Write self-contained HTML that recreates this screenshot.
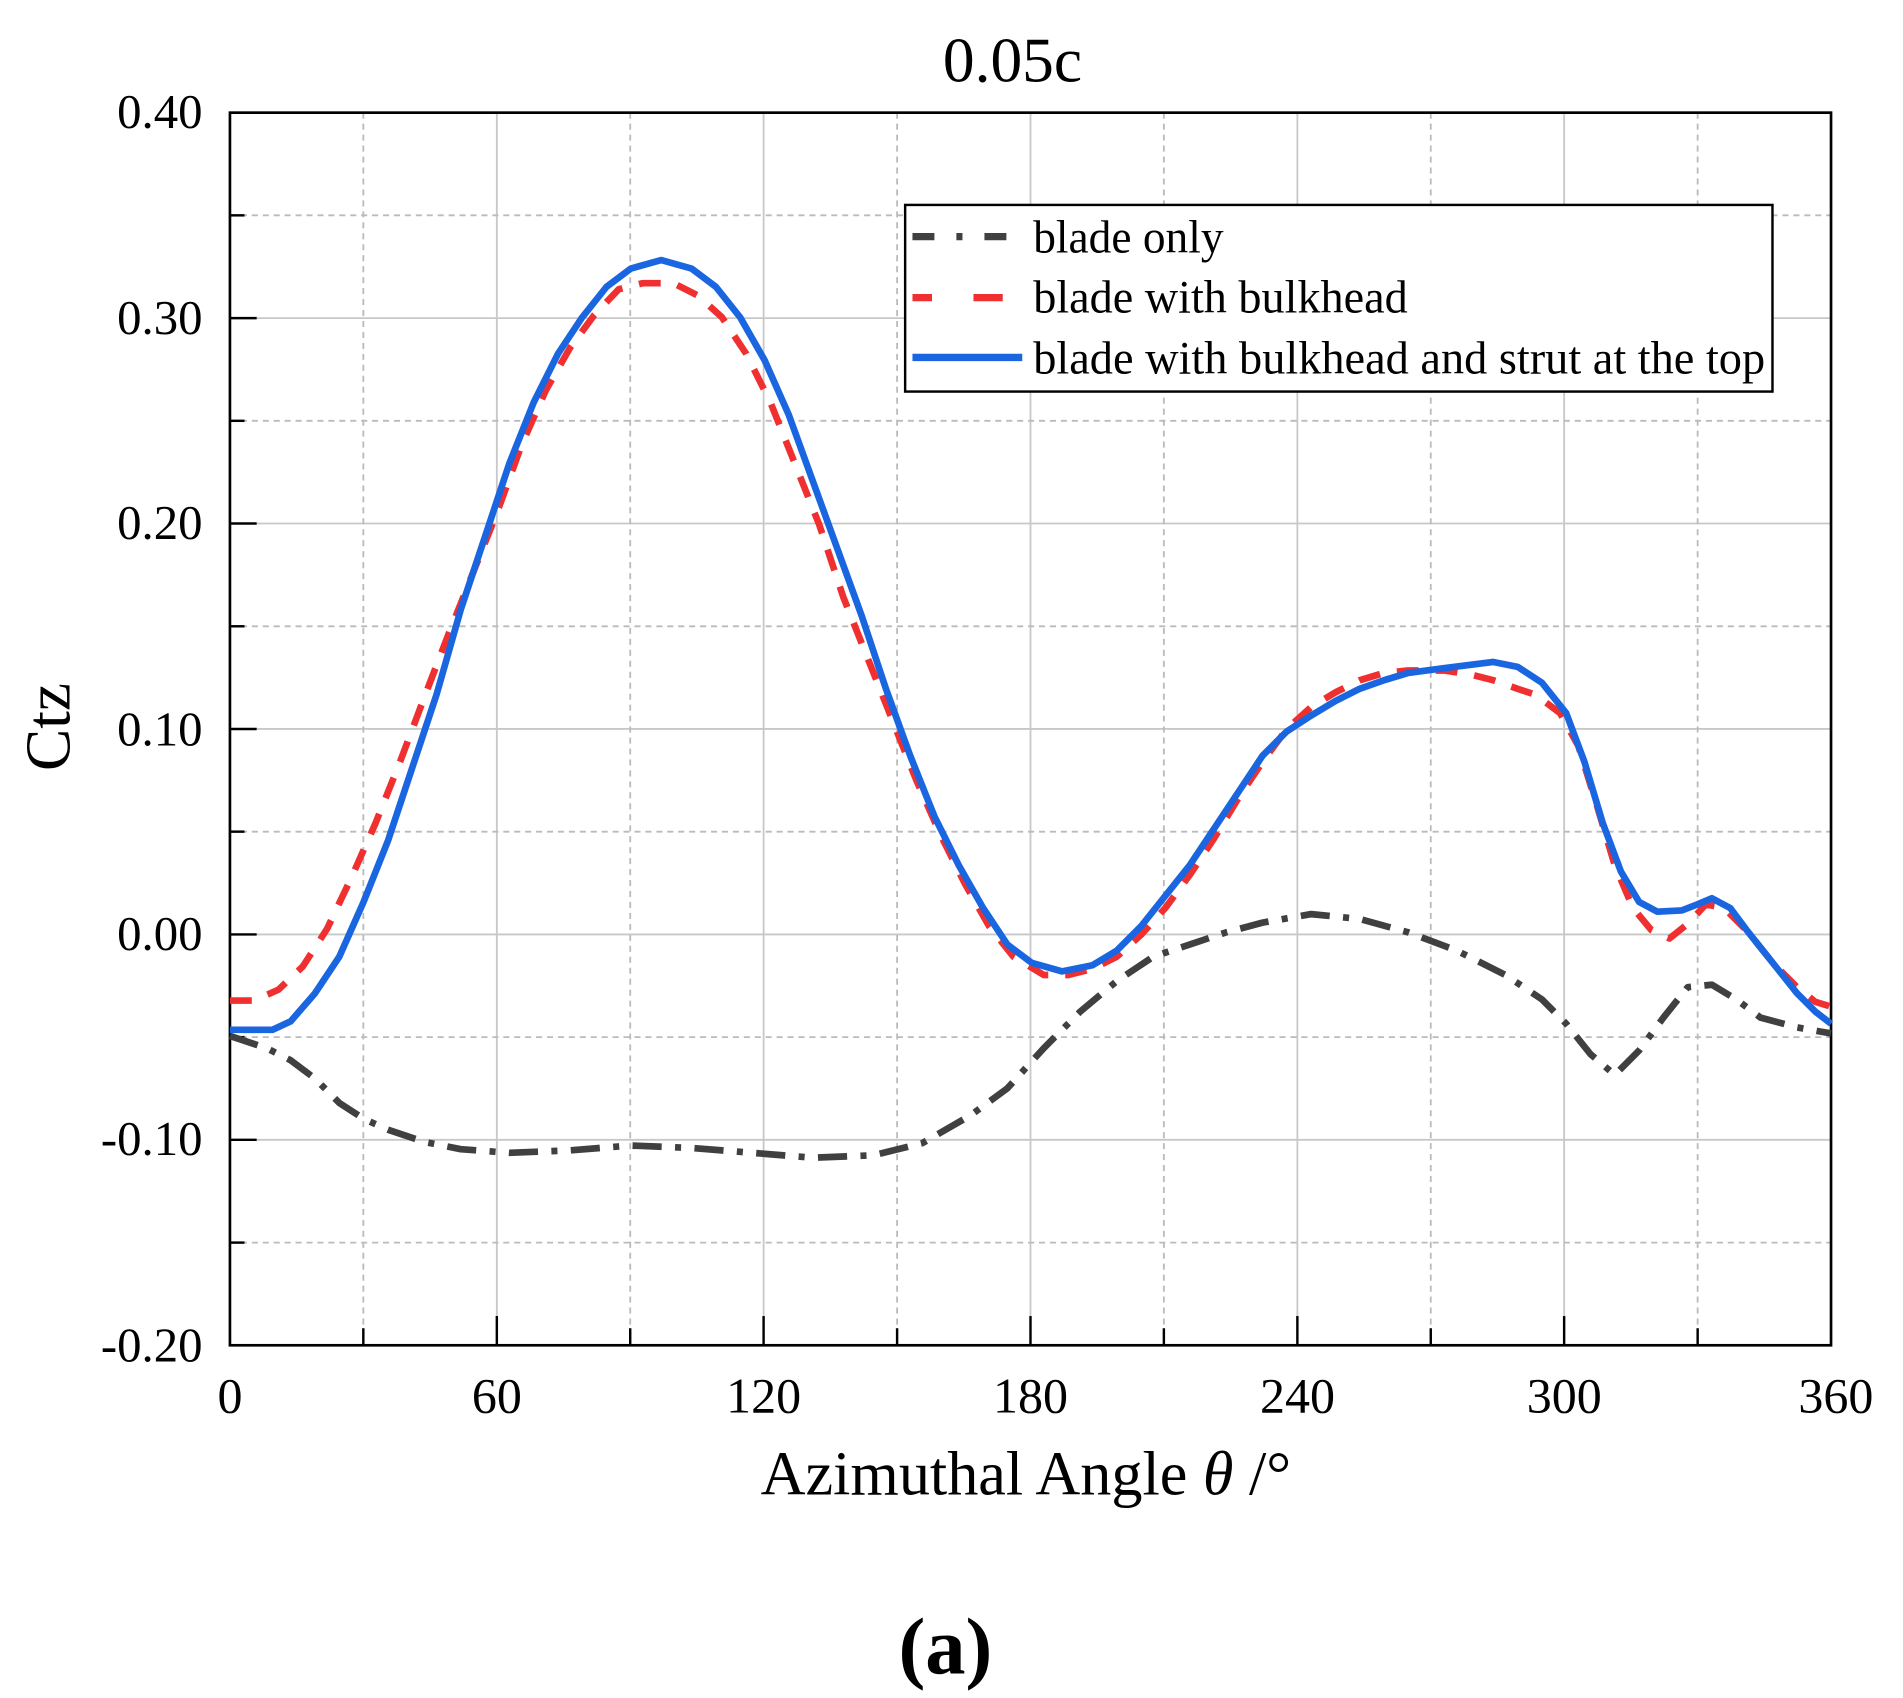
<!DOCTYPE html>
<html><head><meta charset="utf-8"><style>
html,body{margin:0;padding:0;background:#fff;}
svg{display:block;}
text{font-family:"Liberation Serif",serif;fill:#000;}
</style></head><body>
<svg width="1903" height="1698" viewBox="0 0 1560 1392" preserveAspectRatio="none" xmlns="http://www.w3.org/2000/svg">
<rect width="1560" height="1392" fill="#fff"/>
<g transform="matrix(0.99583,0,0,0.9985,-0.71,0.5)">
<g stroke="#c8c8c8" stroke-width="1.5">
<line x1="409.7" y1="92" x2="409.7" y2="1104"/><line x1="629.3" y1="92" x2="629.3" y2="1104"/>
<line x1="849" y1="92" x2="849" y2="1104"/><line x1="1068.7" y1="92" x2="1068.7" y2="1104"/>
<line x1="1288.3" y1="92" x2="1288.3" y2="1104"/>
<line x1="190" y1="260.7" x2="1508" y2="260.7"/><line x1="190" y1="429.3" x2="1508" y2="429.3"/>
<line x1="190" y1="598" x2="1508" y2="598"/><line x1="190" y1="766.7" x2="1508" y2="766.7"/>
<line x1="190" y1="935.3" x2="1508" y2="935.3"/>
</g>
<g stroke="#bbb" stroke-width="1.5" stroke-dasharray="5 4">
<line x1="299.8" y1="92" x2="299.8" y2="1104"/><line x1="519.5" y1="92" x2="519.5" y2="1104"/>
<line x1="739.2" y1="92" x2="739.2" y2="1104"/><line x1="958.8" y1="92" x2="958.8" y2="1104"/>
<line x1="1178.5" y1="92" x2="1178.5" y2="1104"/><line x1="1398.2" y1="92" x2="1398.2" y2="1104"/>
<line x1="190" y1="176.3" x2="1508" y2="176.3"/><line x1="190" y1="345" x2="1508" y2="345"/>
<line x1="190" y1="513.7" x2="1508" y2="513.7"/><line x1="190" y1="682.3" x2="1508" y2="682.3"/>
<line x1="190" y1="851" x2="1508" y2="851"/><line x1="190" y1="1019.7" x2="1508" y2="1019.7"/>
</g>
<g stroke="#000" stroke-width="2">
<line x1="299.8" y1="1104" x2="299.8" y2="1090"/><line x1="409.7" y1="1104" x2="409.7" y2="1080"/>
<line x1="519.5" y1="1104" x2="519.5" y2="1090"/><line x1="629.3" y1="1104" x2="629.3" y2="1080"/>
<line x1="739.2" y1="1104" x2="739.2" y2="1090"/><line x1="849" y1="1104" x2="849" y2="1080"/>
<line x1="958.8" y1="1104" x2="958.8" y2="1090"/><line x1="1068.7" y1="1104" x2="1068.7" y2="1080"/>
<line x1="1178.5" y1="1104" x2="1178.5" y2="1090"/><line x1="1288.3" y1="1104" x2="1288.3" y2="1080"/>
<line x1="1398.2" y1="1104" x2="1398.2" y2="1090"/>
<line x1="190" y1="260.7" x2="212" y2="260.7"/><line x1="190" y1="429.3" x2="212" y2="429.3"/>
<line x1="190" y1="598" x2="212" y2="598"/><line x1="190" y1="766.7" x2="212" y2="766.7"/>
<line x1="190" y1="935.3" x2="212" y2="935.3"/>
<line x1="190" y1="176.3" x2="202" y2="176.3"/><line x1="190" y1="345" x2="202" y2="345"/>
<line x1="190" y1="513.7" x2="202" y2="513.7"/><line x1="190" y1="682.3" x2="202" y2="682.3"/>
<line x1="190" y1="851" x2="202" y2="851"/><line x1="190" y1="1019.7" x2="202" y2="1019.7"/>
</g>
<rect x="190" y="92" width="1318" height="1012" fill="none" stroke="#000" stroke-width="2.2"/>
<polyline fill="none" stroke="#404040" stroke-width="5.5" stroke-dasharray="24 11 5 11" stroke-linejoin="round" points="190,850 220,860 240,870 260,885 280,905 300,918 320,927 350,937 380,943 420,946 470,944 520,940 570,942 620,946 670,950 720,948 760,938 800,915 830,893 860,860 890,830 920,805 950,785 980,775 1010,765 1040,757 1080,750 1120,754 1160,765 1200,780 1240,800 1270,820 1290,840 1310,865 1330,882 1350,862 1370,835 1390,810 1410,808 1430,820 1450,835 1480,843 1508,848"/>
<polyline fill="none" stroke="#f03030" stroke-width="5.5" stroke-dasharray="18 14" stroke-linejoin="round" points="190,821 210,821 230,812 250,793 270,762 290,720 310,675 330,625 350,572 370,520 390,470 410,420 430,365 450,320 470,285 490,258 510,237 530,232 555,232 575,242 595,260 615,290 635,330 655,380 675,430 695,490 715,540 735,590 755,640 775,685 795,725 815,760 835,785 860,800 880,800 900,795 920,785 940,767 960,745 980,718 1000,688 1020,655 1040,625 1060,598 1080,580 1100,568 1120,558 1140,552 1160,550 1190,550 1210,553 1230,558 1250,565 1265,570 1285,585 1300,612 1315,660 1330,710 1345,745 1360,763 1375,770 1390,758 1405,742 1420,745 1440,765 1460,790 1480,810 1495,822 1508,826"/>
<polyline fill="none" stroke="#1a66e0" stroke-width="5.5" stroke-linejoin="round" points="190,845 225,845 240,838 260,815 280,785 300,740 320,690 340,630 360,570 380,500 400,440 420,380 440,330 460,290 480,260 500,235 520,220 545,213 570,220 590,235 610,260 630,295 650,340 670,395 690,450 710,505 730,565 750,620 770,670 790,710 810,745 830,775 850,790 875,797 900,792 920,780 940,760 960,735 980,710 1000,680 1020,650 1040,620 1060,600 1080,587 1100,575 1120,565 1140,558 1160,552 1190,548 1230,543 1250,547 1270,560 1290,585 1305,625 1320,675 1335,715 1350,740 1365,748 1385,747 1398,742 1410,737 1425,745 1440,765 1460,790 1480,815 1495,830 1508,840"/>
</g>
<rect x="742" y="168" width="711" height="153" fill="#fff" stroke="#000" stroke-width="2"/>
<line x1="748" y1="194" x2="838" y2="194" stroke="#404040" stroke-width="6" stroke-dasharray="18 18 5 18"/>
<line x1="748" y1="244" x2="838" y2="244" stroke="#f03030" stroke-width="6" stroke-dasharray="16 34 24"/>
<line x1="748" y1="293" x2="838" y2="293" stroke="#1a66e0" stroke-width="6"/>
<g font-size="38">
<text x="847" y="207" textLength="156" lengthAdjust="spacingAndGlyphs">blade only</text>
<text x="847" y="256" textLength="307" lengthAdjust="spacingAndGlyphs">blade with bulkhead</text>
<text x="847" y="306" textLength="600" lengthAdjust="spacingAndGlyphs">blade with bulkhead and strut at the top</text>
</g>
<g font-size="40" text-anchor="end">
<text x="166" y="105">0.40</text><text x="166" y="274">0.30</text><text x="166" y="442">0.20</text>
<text x="166" y="611">0.10</text><text x="166" y="779">0.00</text><text x="166" y="947">-0.10</text>
<text x="166" y="1116">-0.20</text>
</g>
<g font-size="41" text-anchor="middle">
<text x="188.5" y="1158">0</text><text x="407.3" y="1158">60</text><text x="626" y="1158">120</text>
<text x="844.8" y="1158">180</text><text x="1063.6" y="1158">240</text><text x="1282.3" y="1158">300</text>
<text x="1505" y="1158">360</text>
</g>
<text x="830" y="67" font-size="52" text-anchor="middle">0.05c</text>
<text x="841" y="1225" font-size="51" text-anchor="middle">Azimuthal Angle <tspan font-style="italic">θ</tspan> /°</text>
<text transform="translate(57,596) rotate(-90)" font-size="52" text-anchor="middle">Ctz</text>
<text x="775" y="1372" font-size="66" font-weight="bold" text-anchor="middle">(a)</text>
</svg>
</body></html>
